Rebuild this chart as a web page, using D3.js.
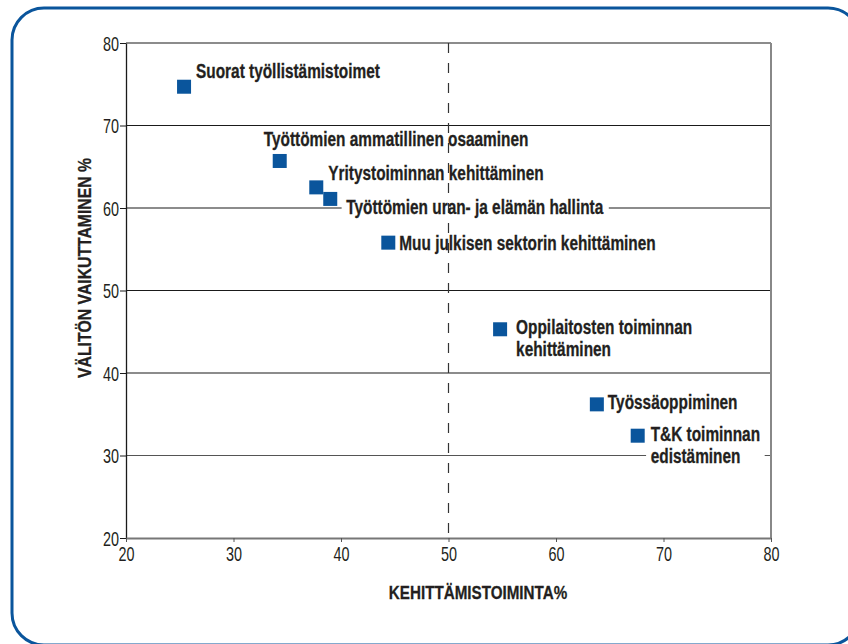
<!DOCTYPE html>
<html><head><meta charset="utf-8">
<script src="https://cdn.jsdelivr.net/npm/d3@7"></script>
<style>
body{margin:0;background:#fff;}
text{font-family:"Liberation Sans",Arial,sans-serif;}
</style></head>
<body><svg id="c" width="848" height="644"></svg>
<script>
const names = [
  ["Suorat työllistämistoimet"],
  ["Työttömien ammatillinen osaaminen"],
  ["Yritystoiminnan kehittäminen"],
  ["Työttömien uran- ja elämän hallinta"],
  ["Muu julkisen sektorin kehittäminen"],
  ["Oppilaitosten toiminnan", "kehittäminen"],
  ["Työssäoppiminen"],
  ["T&K toiminnan", "edistäminen"]
];
const xValues = [25.4, 34.3, 37.7, 39.0, 44.4, 54.8, 63.8, 67.6];
const yValues = [74.7, 65.7, 62.5, 61.1, 55.8, 45.3, 36.2, 32.4];
const xTicks = [20, 30, 40, 50, 60, 70, 80];
const yTicks = [20, 30, 40, 50, 60, 70, 80];
const xTitle = "KEHITTÄMISTOIMINTA%";
const yTitle = "VÄLITÖN VAIKUTTAMINEN %";
const refLine = 50;

// label offsets (px) relative to marker centre: [dx, dy]
const labelOffsets = [[12,-16],[-16,-22],[12,-15],[16,8],[11,0],[16,-2],[11,-3],[13,-2]];

const svg = d3.select("#c");
const blue = "#0a559c";
const ink = "#231f20";
const sx = 0.77;   // condensed look
const m = {l:126, r:771, t:43, b:538};
const x = d3.scaleLinear().domain([20,80]).range([m.l, m.r]);
const y = d3.scaleLinear().domain([20,80]).range([m.b, m.t]);

// frame
svg.append("rect").attr("x",12).attr("y",8).attr("width",848).attr("height",637)
  .attr("rx",32).attr("fill","none").attr("stroke",blue).attr("stroke-width",3);

// gridlines
svg.append("g").selectAll("line").data(yTicks.filter(d=>d>20)).join("line")
  .attr("x1",m.l).attr("x2",m.r).attr("y1",d=>y(d)).attr("y2",d=>y(d))
  .attr("stroke",d=>d===30?"#555":"#1a1a1a").attr("stroke-width",1.2);
// right border
svg.append("line").attr("x1",m.r).attr("x2",m.r).attr("y1",m.t).attr("y2",m.b)
  .attr("stroke","#888").attr("stroke-width",2);

// axes
const yAxis = svg.append("g").attr("transform",`translate(${m.l},0)`)
  .call(d3.axisLeft(y).tickValues(yTicks).tickSize(6).tickSizeOuter(0));
yAxis.select(".domain").attr("stroke","#1a1a1a").attr("stroke-width",1.3);
yAxis.selectAll(".tick line").attr("stroke","#1a1a1a");
yAxis.selectAll(".tick text").attr("font-size",20).attr("fill",ink).attr("x",0).attr("dy","0.36em")
  .attr("transform","translate(-7,0) scale(0.72,1)");

const xAxis = svg.append("g").attr("transform",`translate(0,${m.b})`)
  .call(d3.axisBottom(x).tickValues(xTicks).tickSize(4).tickSizeOuter(0));
xAxis.select(".domain").attr("stroke","#777").attr("stroke-width",2);
xAxis.selectAll(".tick line").attr("stroke","#555");
xAxis.selectAll(".tick text").attr("font-size",20).attr("fill",ink).attr("y",0).attr("dy","0.71em")
  .attr("transform","translate(0,9) scale(0.72,1)");

// labels with white backgrounds
const lg = svg.append("g");
names.forEach((lines,i)=>{
  const cx = x(xValues[i]), cy = y(yValues[i]);
  const [dx,dy] = labelOffsets[i];
  const g = lg.append("g").attr("transform",`translate(${cx+dx},${cy+dy}) scale(${sx},1)`);
  const t = g.append("text").attr("font-size",20).attr("font-weight","bold").attr("fill",ink)
    .attr("stroke",ink).attr("stroke-width",0.3);
  lines.forEach((s,k)=>{
    t.append("tspan").attr("x",0).attr("y",k*22).attr("dy","0.36em").text(s);
  });
  const bb = t.node().getBBox();
  g.insert("rect","text").attr("x",bb.x-6).attr("y",bb.y+1).attr("width",bb.width+12).attr("height",bb.height-2)
    .attr("fill","#fff");
});

// markers
svg.append("g").selectAll("rect").data(xValues).join("rect")
  .attr("x",(d)=>x(d)-7).attr("y",(d,i)=>y(yValues[i])-7)
  .attr("width",14).attr("height",14).attr("fill",blue);

// reference dashed line
svg.append("line").attr("x1",x(refLine)).attr("x2",x(refLine)).attr("y1",m.t).attr("y2",m.b)
  .attr("stroke","#333").attr("stroke-width",1.2).attr("stroke-dasharray","10,10");

// titles
svg.append("text").attr("transform","translate(478,599) scale(0.8,1)").attr("text-anchor","middle")
  .attr("font-size",19).attr("font-weight","bold").attr("fill",ink).attr("stroke",ink).attr("stroke-width",0.3).text(xTitle);
svg.append("text").attr("transform","translate(91,268) rotate(-90) scale(0.83,1)").attr("text-anchor","middle")
  .attr("font-size",19).attr("font-weight","bold").attr("fill",ink).attr("stroke",ink).attr("stroke-width",0.3).text(yTitle);
</script></body></html>
